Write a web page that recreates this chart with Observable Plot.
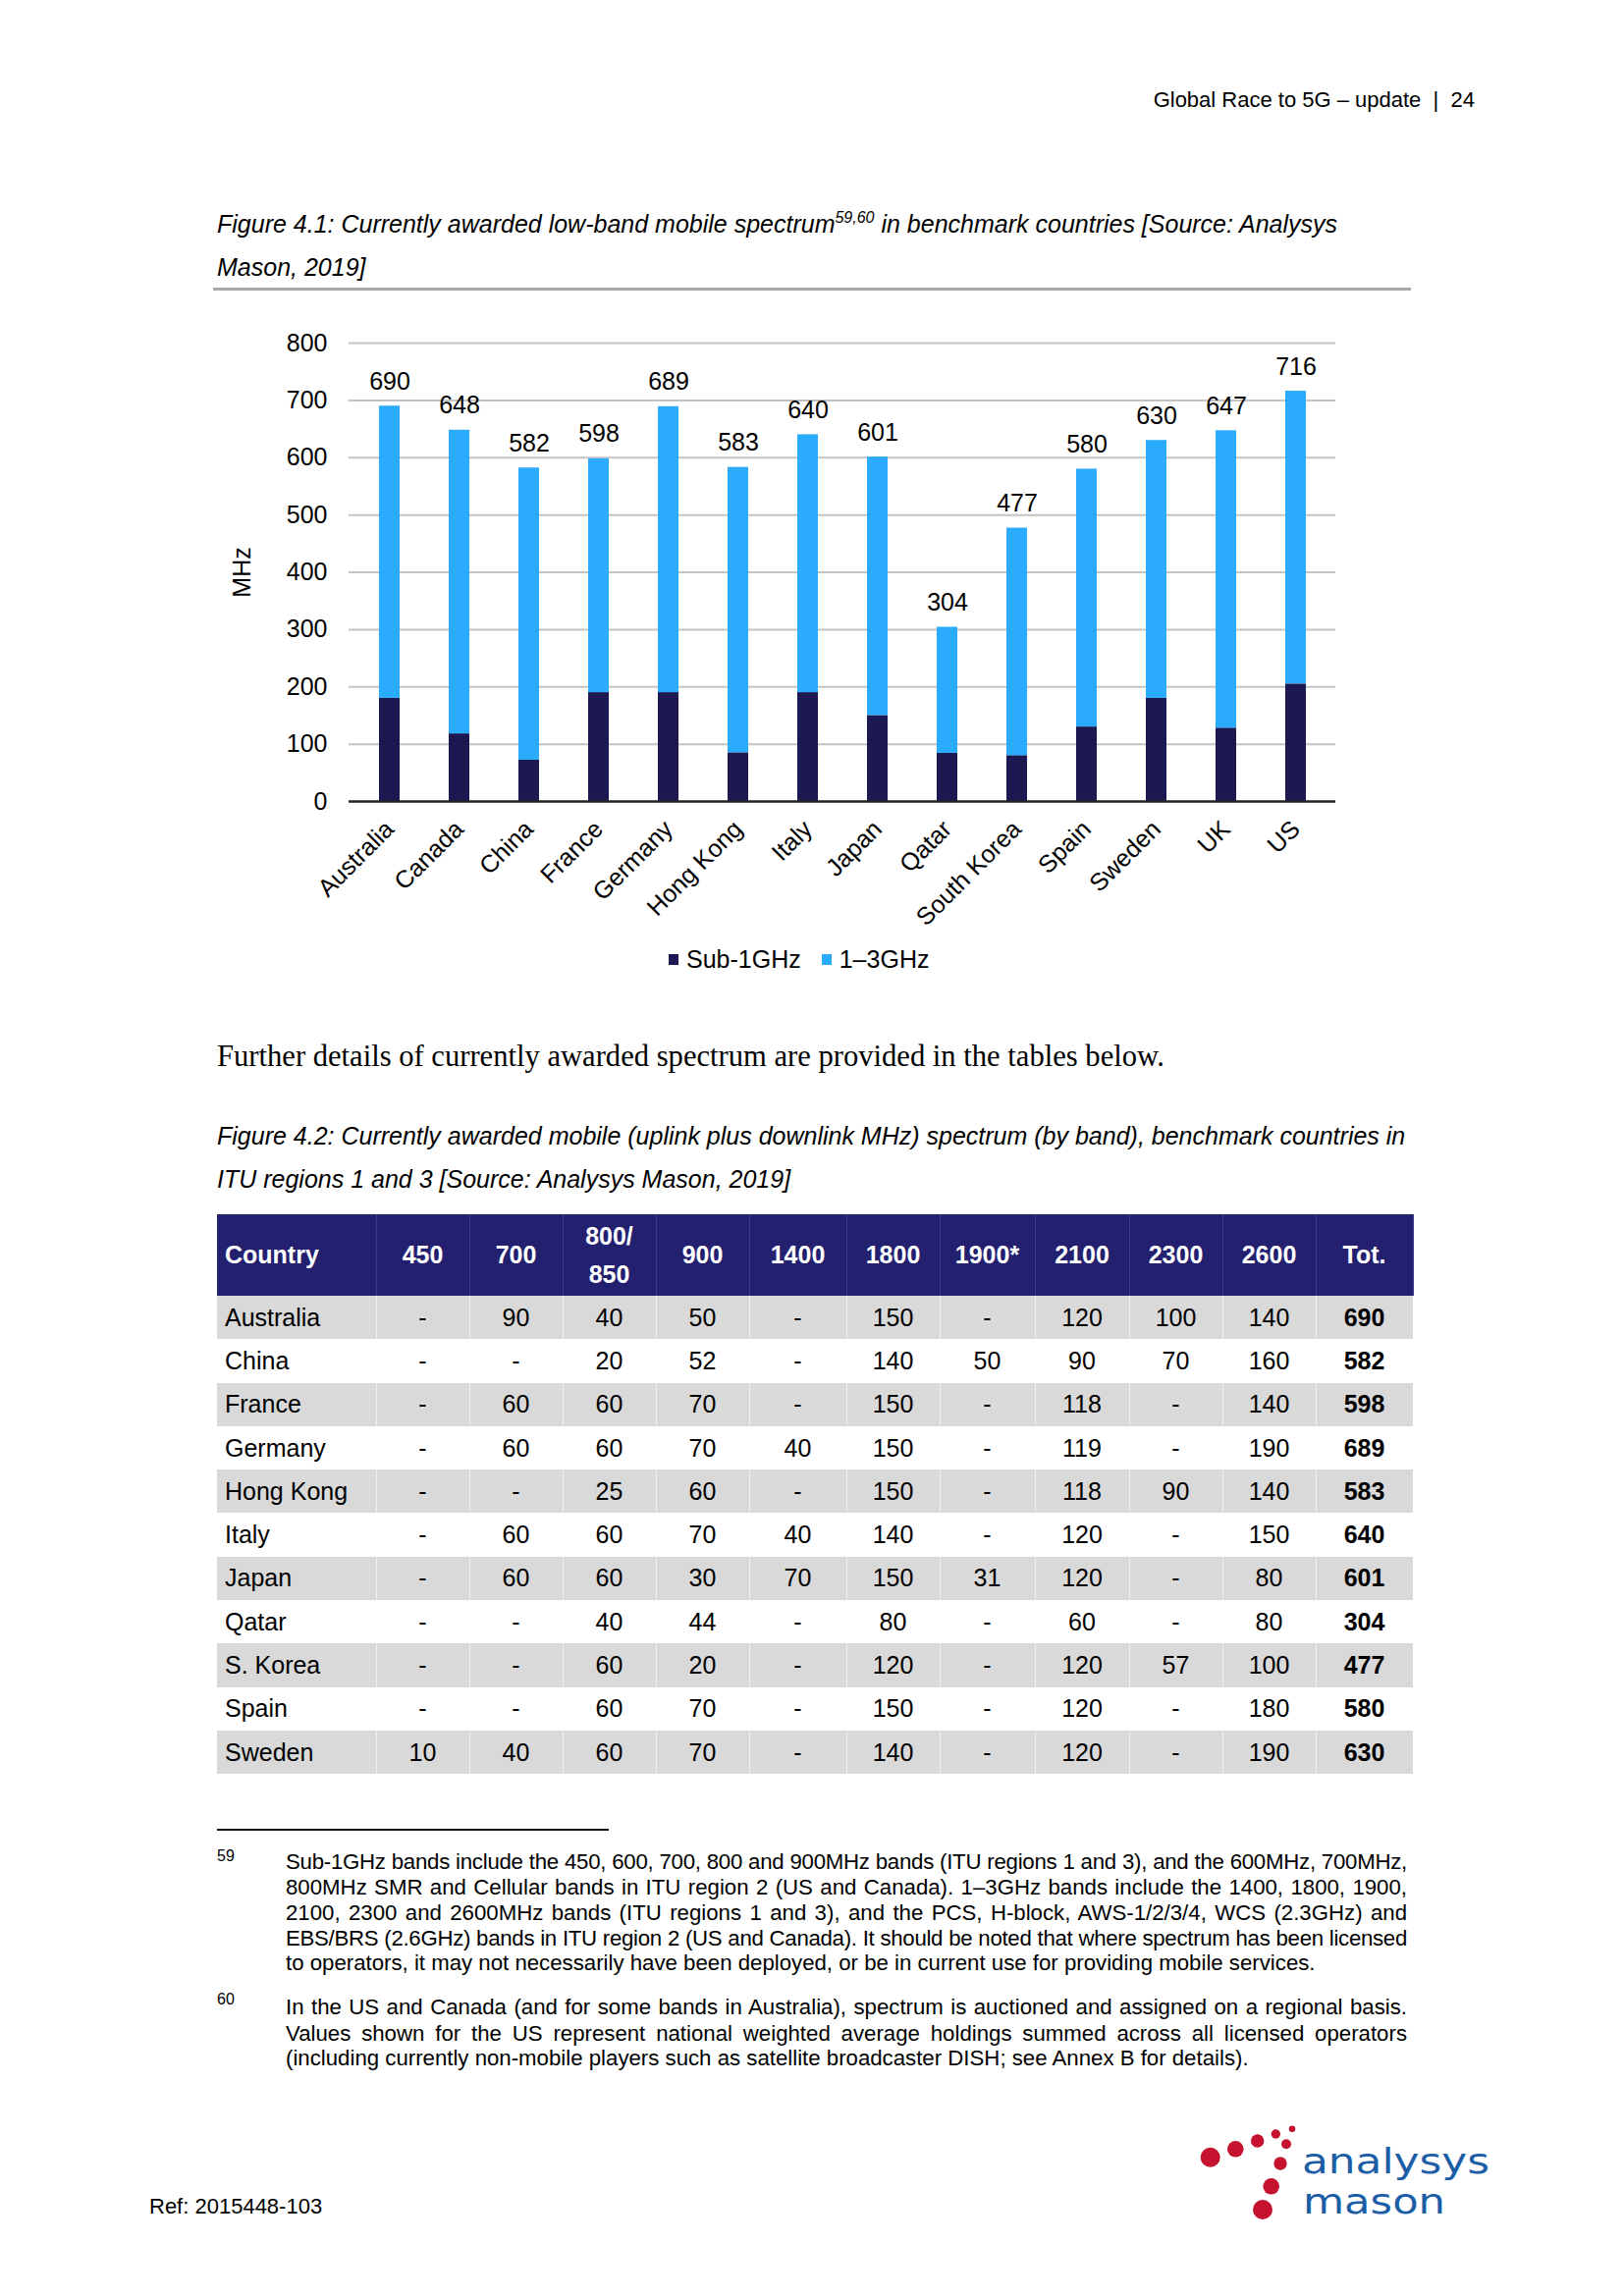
<!DOCTYPE html>
<html>
<head>
<meta charset="utf-8">
<script src="https://cdn.jsdelivr.net/npm/d3@7"></script>
<script src="https://cdn.jsdelivr.net/npm/@observablehq/plot@0.6"></script>
<style>
html,body{margin:0;padding:0;background:#fff;}
body{width:1654px;height:2339px;position:relative;overflow:hidden;font-family:"Liberation Sans",Arial,Helvetica,sans-serif;color:#000;}
.abs{position:absolute;white-space:nowrap;}
.cap{font-size:25px;font-style:italic;line-height:30px;}
.cap sup{font-size:16px;vertical-align:0;position:relative;top:-10px;}
.fn{font-size:20.5px;line-height:26px;width:1142px;text-align:justify;text-align-last:justify;}
.fn.last{text-align-last:left;}
#legend{display:flex;align-items:center;font-size:25px;line-height:28px;}
#legend .sw{display:inline-block;width:10px;height:11px;margin-right:8px;}
#legend .item{display:flex;align-items:center;margin-right:21px;}
table{border-collapse:collapse;table-layout:fixed;font-size:25px;}
th{background:#232070;color:#fff;font-weight:bold;height:83px;padding:0;text-align:center;border-right:1px solid #3b3889;line-height:39px;}
td{height:44.3px;padding:0;text-align:center;border-right:1px solid rgba(255,255,255,0.6);}
th.c,td.c{text-align:left;padding-left:8px;}
tr.g td{background:#d9d9d9;}
td.t{font-weight:bold;}
</style>
</head>
<body>
<script>
// ---- Chart data (Figure 4.1) ----
const countries = ["Australia","Canada","China","France","Germany","Hong Kong","Italy","Japan","Qatar","South Korea","Spain","Sweden","UK","US"];
const sub1GHz = [180,118,72,190,190,85,190,150,84,80,130,180,128,205];
const band1to3GHz = [510,530,510,408,499,498,450,451,220,397,450,450,519,511];
const totals = [690,648,582,598,689,583,640,601,304,477,580,630,647,716];
const seriesNames = ["Sub-1GHz","1–3GHz"];
const seriesColors = ["#1b1852","#2aabfb"];
const yTicks = [0,100,200,300,400,500,600,700,800];

// ---- Table data (Figure 4.2) ----
const tableHeader = ["Country","450","700","800/<br>850","900","1400","1800","1900*","2100","2300","2600","Tot."];
const tableCountries = ["Australia","China","France","Germany","Hong Kong","Italy","Japan","Qatar","S. Korea","Spain","Sweden"];
const col450  = ["-","-","-","-","-","-","-","-","-","-","10"];
const col700  = ["90","-","60","60","-","60","60","-","-","-","40"];
const col800  = ["40","20","60","60","25","60","60","40","60","60","60"];
const col900  = ["50","52","70","70","60","70","30","44","20","70","70"];
const col1400 = ["-","-","-","40","-","40","70","-","-","-","-"];
const col1800 = ["150","140","150","150","150","140","150","80","120","150","140"];
const col1900 = ["-","50","-","-","-","-","31","-","-","-","-"];
const col2100 = ["120","90","118","119","118","120","120","60","120","120","120"];
const col2300 = ["100","70","-","-","90","-","-","-","57","-","-"];
const col2600 = ["140","160","140","190","140","150","80","80","100","180","190"];
const colTot  = ["690","582","598","689","583","640","601","304","477","580","630"];
const colWidths = [162,95,95,95,95,99,95,97,96,95,95,99];
</script>

<div class="abs" style="right:152px;top:89px;font-size:22px;line-height:26px;">Global Race to 5G – update &nbsp;|&nbsp; 24</div>

<div class="abs cap" style="left:221px;top:213px;">Figure 4.1: Currently awarded low-band mobile spectrum<sup>59,60</sup> in benchmark countries [Source: Analysys</div>
<div class="abs cap" style="left:221px;top:257px;">Mason, 2019]</div>
<div class="abs" style="left:217px;top:293px;width:1220px;height:3px;background:#a8a8a8;"></div>

<div class="abs" id="chart" style="left:200px;top:320px;"></div>
<div class="abs" id="legend" style="left:681px;top:963px;"></div>

<div class="abs" id="further" style="left:221px;top:1058px;font-family:'Liberation Serif','Times New Roman',serif;font-size:30.5px;line-height:36px;">Further details of currently awarded spectrum are provided in the tables below.</div>

<div class="abs cap" style="left:221px;top:1142px;">Figure 4.2: Currently awarded mobile (uplink plus downlink MHz) spectrum (by band), benchmark countries in</div>
<div class="abs cap" style="left:221px;top:1186px;">ITU regions 1 and 3 [Source: Analysys Mason, 2019]</div>

<div class="abs" id="tbl" style="left:221px;top:1237px;"></div>

<div class="abs" style="left:221px;top:1863px;width:399px;height:2px;background:#111;"></div>
<div class="abs" style="left:221px;top:1881px;font-size:16px;line-height:20px;">59</div>
<div class="abs fn" style="left:291px;top:1884px;">Sub-1GHz bands include the 450, 600, 700, 800 and 900MHz bands (ITU regions 1 and 3), and the 600MHz, 700MHz,</div>
<div class="abs fn" style="left:291px;top:1910px;">800MHz SMR and Cellular bands in ITU region 2 (US and Canada). 1–3GHz bands include the 1400, 1800, 1900,</div>
<div class="abs fn" style="left:291px;top:1936px;">2100, 2300 and 2600MHz bands (ITU regions 1 and 3), and the PCS, H-block, AWS-1/2/3/4, WCS (2.3GHz) and</div>
<div class="abs fn" style="left:291px;top:1962px;">EBS/BRS (2.6GHz) bands in ITU region 2 (US and Canada). It should be noted that where spectrum has been licensed</div>
<div class="abs fn last" style="left:291px;top:1987px;">to operators, it may not necessarily have been deployed, or be in current use for providing mobile services.</div>
<div class="abs" style="left:221px;top:2027px;font-size:16px;line-height:20px;">60</div>
<div class="abs fn" style="left:291px;top:2032px;">In the US and Canada (and for some bands in Australia), spectrum is auctioned and assigned on a regional basis.</div>
<div class="abs fn" style="left:291px;top:2059px;">Values shown for the US represent national weighted average holdings summed across all licensed operators</div>
<div class="abs fn last" id="fnref" style="left:291px;top:2084px;">(including currently non-mobile players such as satellite broadcaster DISH; see Annex B for details).</div>

<div class="abs" style="left:152px;top:2235px;font-size:22px;line-height:26px;">Ref: 2015448-103</div>

<svg class="abs" style="left:1200px;top:2150px;" width="340" height="130" viewBox="0 0 340 130">
  <g fill="#c4122f">
    <circle cx="32.7" cy="47.7" r="10"/><circle cx="58.3" cy="39.3" r="8.3"/><circle cx="80.7" cy="31" r="6.7"/>
    <circle cx="99.3" cy="24" r="4.7"/><circle cx="116" cy="18.7" r="3.3"/><circle cx="110" cy="34.3" r="5"/>
    <circle cx="104" cy="54" r="6.7"/><circle cx="94.7" cy="77.3" r="8.3"/><circle cx="86" cy="101" r="10"/>
  </g>
  <g fill="#1b5ea6" font-family="'DejaVu Sans',sans-serif" font-size="35">
    <text x="126" y="64" textLength="191" lengthAdjust="spacingAndGlyphs">analysys</text>
    <text x="127" y="105" textLength="145" lengthAdjust="spacingAndGlyphs">mason</text>
  </g>
</svg>

<script>
const rows = countries.flatMap((c, i) => [
  {country: c, series: seriesNames[0], value: sub1GHz[i]},
  {country: c, series: seriesNames[1], value: band1to3GHz[i]}
]);
const totalRows = countries.map((c, i) => ({country: c, total: totals[i]}));

const chart = Plot.plot({
  width: 1200,
  height: 640,
  marginLeft: 155,
  marginRight: 40,
  marginTop: 29,
  marginBottom: 144,
  style: {fontFamily: "'Liberation Sans', Arial, sans-serif", fontSize: "25px", color: "#000", background: "transparent", overflow: "visible"},
  x: {domain: countries, paddingInner: 0.707, paddingOuter: 0.3535},
  y: {domain: [0, 800]},
  color: {domain: seriesNames, range: seriesColors},
  marks: [
    Plot.gridY(yTicks.filter(d => d > 0), {stroke: "#c4c4c4", strokeOpacity: 1, strokeWidth: 2}),
    Plot.barY(rows, {x: "country", y: "value", fill: "series", order: seriesNames}),
    Plot.ruleY([0], {stroke: "#222", strokeWidth: 2.5}),
    Plot.text(totalRows, {x: "country", y: "total", text: d => String(d.total), dy: -17, lineAnchor: "bottom", fill: "#000"}),
    Plot.axisY(yTicks, {tickSize: 0, tickPadding: 22, label: "MHz", labelAnchor: "center", labelArrow: false, labelOffset: 118}),
    Plot.axisX({tickSize: 0, tickRotate: -45, tickPadding: 24, label: null})
  ]
});
document.getElementById("chart").appendChild(chart);

// legend
const lg = document.getElementById("legend");
seriesNames.forEach((name, i) => {
  const it = document.createElement("span");
  it.className = "item";
  const sw = document.createElement("span");
  sw.className = "sw";
  sw.style.background = seriesColors[i];
  it.appendChild(sw);
  it.appendChild(document.createTextNode(name));
  lg.appendChild(it);
});

// table
const cols = [col450, col700, col800, col900, col1400, col1800, col1900, col2100, col2300, col2600, colTot];
let html = "<table style='width:" + colWidths.reduce((a, b) => a + b, 0) + "px'><colgroup>" +
  colWidths.map(w => "<col style='width:" + w + "px'>").join("") + "</colgroup><tr>";
tableHeader.forEach((h, j) => { html += "<th" + (j === 0 ? " class='c'" : "") + ">" + h + "</th>"; });
html += "</tr>";
tableCountries.forEach((c, i) => {
  html += "<tr" + (i % 2 === 0 ? " class='g'" : "") + "><td class='c'>" + c + "</td>";
  cols.forEach((col, j) => { html += "<td" + (j === cols.length - 1 ? " class='t'" : "") + ">" + col[i] + "</td>"; });
  html += "</tr>";
});
html += "</table>";
document.getElementById("tbl").innerHTML = html;

// fit text widths to the page layout
function naturalWidth(el, size) {
  const s = document.createElement("span");
  const cs = getComputedStyle(el);
  s.style.cssText = "position:absolute;visibility:hidden;white-space:nowrap;font-family:" + cs.fontFamily +
    ";font-style:" + cs.fontStyle + ";font-weight:" + cs.fontWeight + ";font-size:" + size + "px;";
  s.textContent = el.textContent;
  document.body.appendChild(s);
  const w = s.getBoundingClientRect().width;
  s.remove();
  return w;
}
const further = document.getElementById("further");
further.style.fontSize = (30.5 * 965 / naturalWidth(further, 30.5)) + "px";

const fnRef = document.getElementById("fnref");
const fnSize = 20 * 981 / naturalWidth(fnRef, 20);
document.querySelectorAll(".fn").forEach(el => {
  el.style.fontSize = fnSize + "px";
  const w = naturalWidth(el, fnSize);
  if (w > 1142) el.style.letterSpacing = ((1142 - w) / el.textContent.length - 0.02) + "px";
});
</script>
</body>
</html>
